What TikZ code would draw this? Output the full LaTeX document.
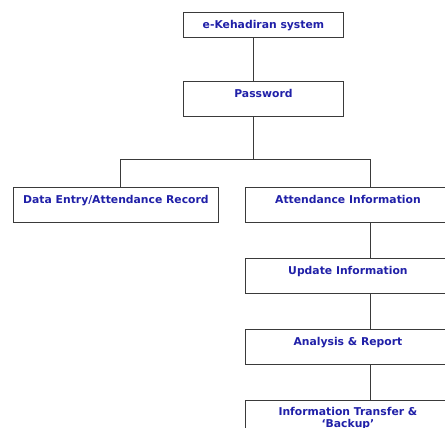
\documentclass[tikz,border=0pt]{standalone}
\usepackage{fontspec}
\setmainfont{DejaVu Sans}
\usepackage{xcolor}
\usetikzlibrary{positioning}
\definecolor{navytxt}{HTML}{2020A8}
\definecolor{boxline}{HTML}{3A3A3A}
\tikzset{
  flowbox/.style={draw=boxline, line width=0.9pt, rectangle, anchor=north west,
    inner xsep=0pt, inner ysep=0pt, minimum width=205pt,
    font=\fontsize{10.8}{12.5}\selectfont\bfseries, text=navytxt, align=center},
  toptext/.style={flowbox, text height=16pt, text depth=19.5pt},
  link/.style={draw=boxline, line width=0.9pt},
}

\begin{document}
\begin{tikzpicture}[x=1pt, y=-1pt]
  \useasboundingbox (0,0) rectangle (445,428);
  \clip (0,0) rectangle (445,428);

  % top of the tree
  \node[flowbox, minimum width=160pt, text height=16.5pt, text depth=8.5pt] (sys) at (183,12) {e-Kehadiran system};
  \node[toptext, minimum width=160pt] (pwd) at (183,81) {Password};

  % the two branches
  \node[toptext, text depth=19pt] (entry) at (13,187) {Data Entry/Attendance Record};
  \node[toptext, text depth=19pt] (info) at (245,187) {Attendance Information};

  \node[toptext] (update) [below=35pt of info.south west, anchor=north west] {Update Information};
  \node[toptext] (report) [below=34.5pt of update.south west, anchor=north west] {Analysis \& Report};
  \node[flowbox, inner ysep=6.8pt, minimum height=36pt] (transfer) [below=34.5pt of report.south west, anchor=north west] {Information Transfer \&\\`Backup'};

  \coordinate (spine) at (253,0);
  \coordinate (fork) at (253,159);
  \coordinate (col) at (370,0);

  \draw[link] (sys.south -| spine) -- (pwd.north -| spine);
  \draw[link] (pwd.south -| spine) -- (fork);
  \draw[link] (fork) -| (entry.north -| 120,0);
  \draw[link] (fork) -| (info.north -| col);

  \draw[link] (info.south -| col) -- (update.north -| col);
  \draw[link] (update.south -| col) -- (report.north -| col);
  \draw[link] (report.south -| col) -- (transfer.north -| col);
\end{tikzpicture}
\end{document}
